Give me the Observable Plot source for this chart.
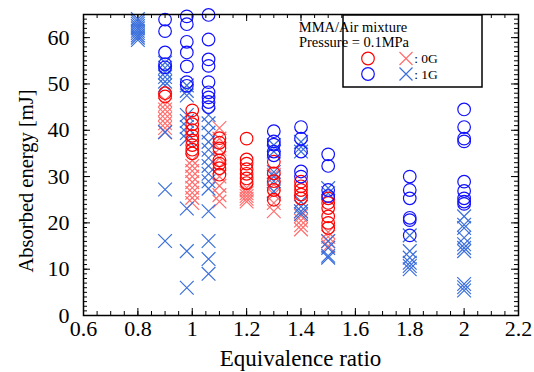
<!DOCTYPE html>
<html><head><meta charset="utf-8">
<script src="https://cdn.jsdelivr.net/npm/d3@7"></script>
<script src="https://cdn.jsdelivr.net/npm/@observablehq/plot@0.6"></script>
<style>body{margin:0;background:#fff} svg{display:block} svg text{font-family:'Liberation Serif','DejaVu Serif',Times,serif !important}</style>
</head><body><div id="chart"></div>
<script>
// [equivalence ratio, absorbed energy mJ]
const circles0G = [
  [0.9,48.0],[0.9,47.3],
  [1.0,44.3],[1.0,42.5],[1.0,41.3],[1.0,40.0],[1.0,38.8],[1.0,37.8],[1.0,36.8],[1.0,35.8],[1.0,35.0],
  [1.1,38.3],[1.1,37.3],[1.1,36.1],[1.1,33.5],[1.1,32.8],[1.1,31.8],[1.1,30.4],
  [1.2,38.2],[1.2,33.7],[1.2,32.8],[1.2,31.6],[1.2,30.6],[1.2,29.6],[1.2,28.6],
  [1.3,33.2],[1.3,30.7],[1.3,29.0],[1.3,27.1],[1.3,25.0],
  [1.4,28.9],[1.4,27.9],[1.4,27.1],[1.4,26.1],[1.4,25.3],
  [1.5,25.3],[1.5,24.3],[1.5,23.2],[1.5,21.4],[1.5,20.0],[1.5,18.9]
];
const crosses0G = [
  [0.9,46.5],[0.9,45.5],[0.9,44.5],[0.9,43.5],[0.9,42.5],[0.9,41.5],[0.9,40.5],[0.9,39.6],
  [1.0,33.5],[1.0,32.3],[1.0,31.2],[1.0,30.0],[1.0,28.8],[1.0,27.6],[1.0,26.5],[1.0,25.4],[1.0,24.3],
  [1.1,40.5],[1.1,38.2],[1.1,36.0],[1.1,34.0],[1.1,32.0],[1.1,30.0],[1.1,28.0],[1.1,26.0],[1.1,24.6],
  [1.2,27.6],[1.2,27.0],[1.2,26.4],[1.2,25.8],[1.2,25.2],[1.2,24.6],
  [1.3,30.4],[1.3,28.3],[1.3,26.2],[1.3,24.3],[1.3,22.5],
  [1.4,22.5],[1.4,21.5],[1.4,20.5],[1.4,19.5],[1.4,18.6],
  [1.5,18.0],[1.5,17.0],[1.5,16.0],[1.5,15.0]
];
const circles1G = [
  [0.9,63.9],[0.9,61.4],[0.9,56.8],[0.9,54.3],[0.9,53.6],
  [0.98,64.6],[0.98,62.9],[0.98,59.1],[0.98,56.8],[0.98,53.8],[0.98,50.4],[0.98,49.6],
  [1.06,64.9],[1.06,59.6],[1.06,55.3],[1.06,53.9],[1.06,50.4],[1.06,48.2],[1.06,47.1],[1.06,46.1],[1.06,45.0],
  [1.3,39.8],[1.3,37.6],[1.3,36.9],[1.3,35.4],[1.3,34.6],
  [1.4,40.7],[1.4,38.2],[1.4,35.4],[1.4,31.1],[1.4,30.0],
  [1.5,34.8],[1.5,32.3],[1.5,27.1],[1.5,25.8],
  [1.8,30.0],[1.8,27.1],[1.8,25.3],[1.8,21.1],[1.8,20.6],[1.8,17.3],
  [2.0,44.5],[2.0,40.7],[2.0,38.2],[2.0,37.6],[2.0,28.9],[2.0,26.9],[2.0,25.3],[2.0,24.6],[2.0,24.1]
];
const crosses1G = [
  [0.8,64.0],[0.8,63.5],[0.8,63.0],[0.8,62.5],[0.8,62.0],[0.8,61.5],[0.8,61.0],[0.8,60.5],[0.8,60.0],[0.8,59.5],
  [0.9,54.6],[0.9,53.5],[0.9,52.5],[0.9,51.5],[0.9,50.5],[0.9,49.7],[0.9,39.6],[0.9,27.2],[0.9,16.1],
  [0.98,49.7],[0.98,48.5],[0.98,47.5],[0.98,43.3],[0.98,42.0],[0.98,40.7],[0.98,39.4],[0.98,38.1],[0.98,23.1],[0.98,13.9],[0.98,6.0],
  [1.06,43.3],[1.06,41.5],[1.06,39.5],[1.06,37.5],[1.06,35.8],[1.06,34.0],[1.06,32.3],[1.06,30.6],[1.06,29.0],[1.06,27.4],[1.06,22.5],[1.06,16.1],[1.06,12.2],[1.06,9.0],
  [1.3,36.8],[1.3,35.4],[1.3,31.0],[1.3,30.0],[1.3,29.0],[1.3,26.8],
  [1.4,37.5],[1.4,36.4],[1.4,35.4],[1.4,24.6],[1.4,23.5],[1.4,22.5],[1.4,21.9],
  [1.5,27.5],[1.5,26.4],[1.5,16.1],[1.5,14.6],[1.5,12.9],[1.5,12.5],
  [1.8,17.3],[1.8,13.9],[1.8,12.5],[1.8,11.4],[1.8,10.7],[1.8,10.0],
  [2.0,21.4],[2.0,19.6],[2.0,18.9],[2.0,16.8],[2.0,15.4],[2.0,14.6],[2.0,13.9],[2.0,6.8],[2.0,6.1],[2.0,5.4]
];
const xTicks = [0.6, 0.8, 1, 1.2, 1.4, 1.6, 1.8, 2, 2.2];
const yTicks = [0, 10, 20, 30, 40, 50, 60];
const xTitle = "Equivalence ratio";
const yTitle = "Absorbed energy [mJ]";
const legendTitle = ["MMA/Air mixture", "Pressure = 0.1MPa"];
const legendLabels = [": 0G", ": 1G"];

const xDom = [0.6, 2.2], yDom = [0, 65];
const W = 534, H = 372, mL = 83, mR = 16, mT = 14, mB = 57;
const pxX = (W - mL - mR) / (xDom[1] - xDom[0]);
const pxY = (H - mT - mB) / (yDom[1] - yDom[0]);
const xMinor = d3.range(0.6, 2.2001, 0.05).map(v => +v.toFixed(2));
const yMinor = d3.range(0, 65.01, 1);
const majX = 7 / pxX, minX = 4 / pxX, majY = 7 / pxY, minY = 4 / pxY;

const RED = "#ff0000", RED_X = "#ff6e6e", BLUE = "#1010ff", BLUE_X = "#3a6fdc";
const SERIF = "'Liberation Serif','DejaVu Serif',Times,serif";

const chart = Plot.plot({
  width: W, height: H,
  marginLeft: mL, marginRight: mR, marginTop: mT, marginBottom: mB,
  style: {fontFamily: SERIF, fontSize: "22px", color: "black", background: "white"},
  x: {domain: xDom},
  y: {domain: yDom},
  marks: [
    Plot.ruleX(xMinor, {x: d => d, y1: 0, y2: minY, stroke: "black"}),
    Plot.ruleX(xMinor, {x: d => d, y1: 65, y2: 65 - minY, stroke: "black"}),
    Plot.ruleX(xTicks, {x: d => d, y1: 0, y2: majY, stroke: "black"}),
    Plot.ruleX(xTicks, {x: d => d, y1: 65, y2: 65 - majY, stroke: "black"}),
    Plot.ruleY(yMinor, {y: d => d, x1: 0.6, x2: 0.6 + minX, stroke: "black"}),
    Plot.ruleY(yMinor, {y: d => d, x1: 2.2, x2: 2.2 - minX, stroke: "black"}),
    Plot.ruleY(yTicks, {y: d => d, x1: 0.6, x2: 0.6 + majX, stroke: "black"}),
    Plot.ruleY(yTicks, {y: d => d, x1: 2.2, x2: 2.2 - majX, stroke: "black"}),
    Plot.axisX({ticks: xTicks, tickSize: 0, tickPadding: 5, tickFormat: d3.format("~g"), label: null, fontSize: 22}),
    Plot.axisY({ticks: yTicks, tickSize: 0, tickPadding: 14, label: null, fontSize: 22}),
    Plot.dot(crosses0G, {x: d => d[0], y: d => d[1], symbol: "times", r: 6.3, stroke: RED_X, strokeWidth: 1.2}),
    Plot.dot(crosses1G, {x: d => d[0], y: d => d[1], symbol: "times", r: 6.3, stroke: BLUE_X, strokeWidth: 1.2}),
    Plot.dot(circles0G, {x: d => d[0], y: d => d[1], symbol: "circle", r: 6.3, fill: "none", stroke: RED, strokeWidth: 1.2}),
    Plot.dot(circles1G, {x: d => d[0], y: d => d[1], symbol: "circle", r: 6.3, fill: "none", stroke: BLUE, strokeWidth: 1.2}),
    Plot.frame({stroke: "black", strokeWidth: 1.5})
  ]
});
document.getElementById("chart").append(chart);

const svg = d3.select(chart);
// axis titles
svg.append("text").attr("x", mL + (W - mL - mR) / 2).attr("y", 366)
  .attr("text-anchor", "middle").attr("font-size", 23).style("font-family", SERIF)
  .attr("fill", "black").text(xTitle);
svg.append("text").attr("transform", "translate(33,181) rotate(-90)")
  .attr("text-anchor", "middle").attr("font-size", 20.5).style("font-family", SERIF)
  .attr("fill", "black").text(yTitle);
// legend
const lg = svg.append("g").style("font-family", SERIF).attr("font-size", 14.5).attr("fill", "black");
lg.append("rect").attr("x", 343).attr("y", 15).attr("width", 139).attr("height", 72)
  .attr("fill", "white").attr("stroke", "black").attr("stroke-width", 1.5);
lg.append("text").attr("x", 353).attr("y", 32).text(legendTitle[0]);
lg.append("text").attr("x", 354).attr("y", 47).text(legendTitle[1]);
const rows = [{cy: 58.5, c: RED, x: RED_X}, {cy: 74, c: BLUE, x: BLUE_X}];
rows.forEach((r, i) => {
  lg.append("circle").attr("cx", 368).attr("cy", r.cy).attr("r", 6.3).attr("fill", "none").attr("stroke", r.c).attr("stroke-width", 1.2);
  lg.append("path").attr("d", `M${406-6.5},${r.cy-6.5}L${406+6.5},${r.cy+6.5}M${406-6.5},${r.cy+6.5}L${406+6.5},${r.cy-6.5}`)
    .attr("stroke", r.x).attr("stroke-width", 1.2).attr("fill", "none");
  lg.append("text").attr("x", 426).attr("y", r.cy + 4.5).attr("font-size", 13.5).text(legendLabels[i]);
});
</script>
</body></html>
